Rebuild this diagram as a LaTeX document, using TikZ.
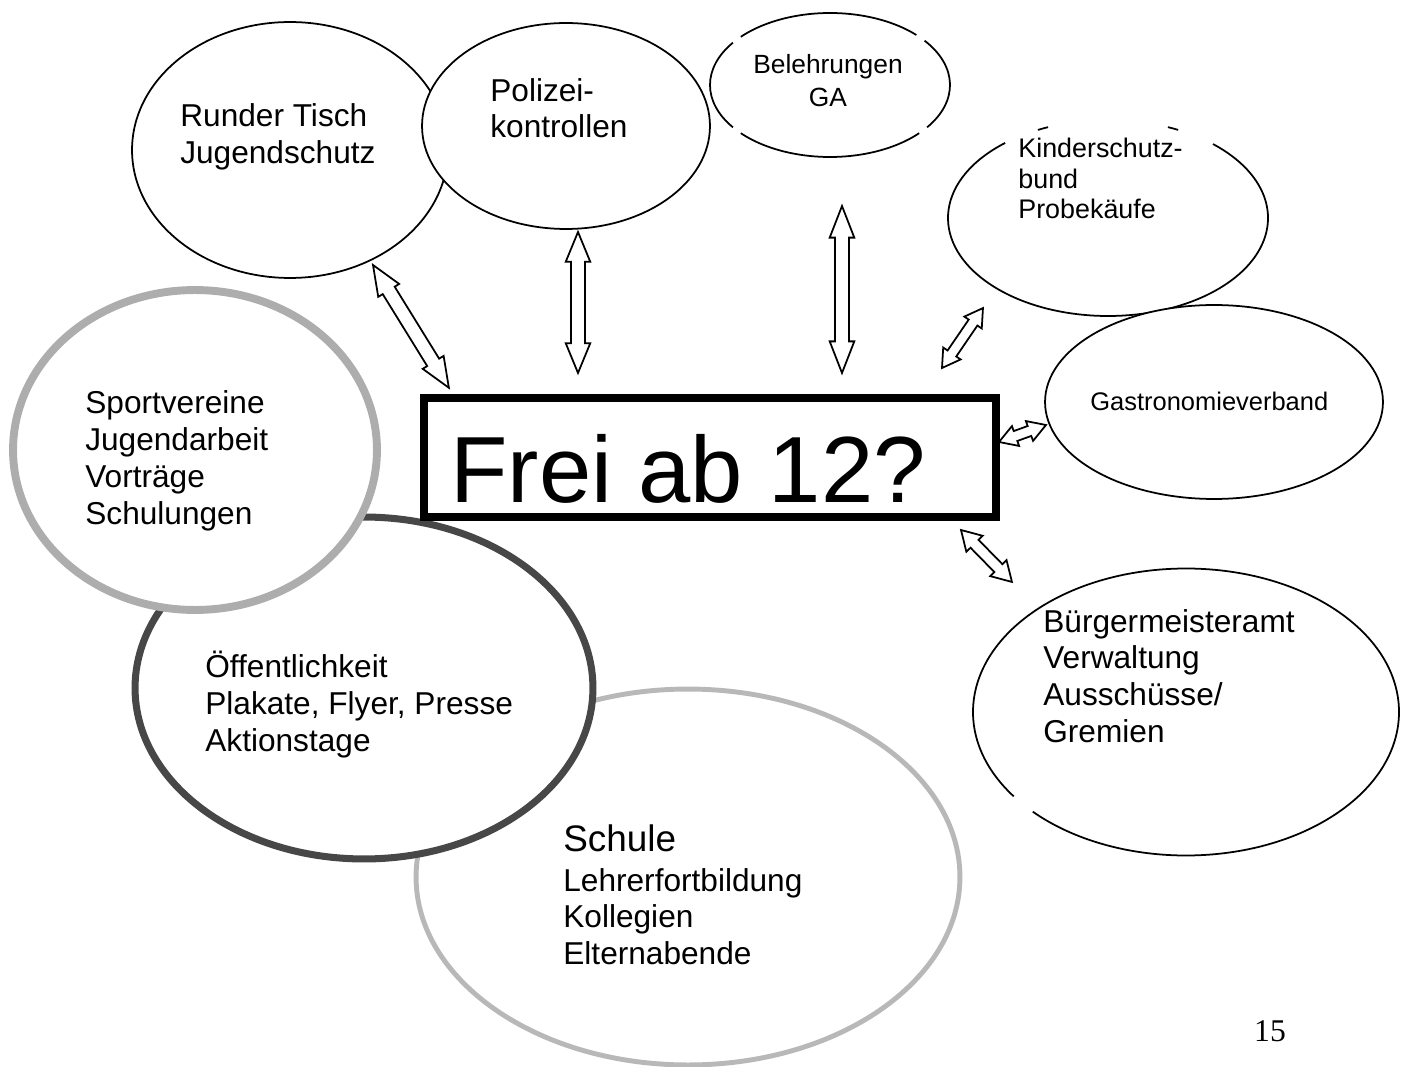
\documentclass[tikz,border=0pt]{standalone}
\usepackage{fontspec}
\setmainfont{Liberation Sans}
\newfontfamily\pagenumfont{Liberation Serif}
\usetikzlibrary{calc,shapes.geometric}

% hollow block arrow with a head at both ends, from #1 to #2;
% #3 head length, #4 half width of the head, #5 half width of the shaft (all in pt)
\newcommand{\twoway}[5]{%
  \draw[line width=1pt, fill=white]
    let \p1=($(#2)-(#1)$), \n1={atan2(\y1,\x1)}, \n2={veclen(\x1,\y1)} in
    [shift={(#1)}, rotate=\n1]
    (0pt,0pt) -- (#3pt,#4pt) -- (#3pt,#5pt) -- ({\n2*1pt-#3pt},#5pt) -- ({\n2*1pt-#3pt},#4pt)
    -- ({\n2*1pt},0pt) -- ({\n2*1pt-#3pt},-#4pt) -- ({\n2*1pt-#3pt},-#5pt)
    -- (#3pt,-#5pt) -- (#3pt,-#4pt) -- cycle;
}

\begin{document}
\begin{tikzpicture}[x=0.02cm, y=-0.02cm,
  bubble/.style={ellipse, draw, line width=1pt, fill=white, inner sep=0pt},
  words/.style={anchor=base west, align=left, inner sep=0pt, font=\fontsize{18}{21}\selectfont}]
  % one unit = one pixel of the sheet, y runs down; text nodes sit on the baseline of their last line
  \useasboundingbox (0,0) rectangle (1407,1067);
  % ---------------------------------------------------------------- the partners round the top
  \node[bubble, minimum width=6.32cm, minimum height=5.12cm] (tisch) at (290,150) {};
  \node[bubble, minimum width=5.76cm, minimum height=4.12cm] (polizei) at (566,126) {};
  % Belehrungen: the outline is broken in four places
  \node[ellipse, minimum width=4.8cm, minimum height=2.88cm, inner sep=0pt] (ga) at (830,85) {};
  \foreach \a/\b in {44/138, 144/216, 222/318, 324/398}
    \draw[line width=1pt] ([shift={(-\a:120 and 72)}]ga.center) arc[start angle=-\a, end angle=-\b, x radius=120, y radius=72];
  % Kinderschutzbund: open at the top, two short bits left
  \node[ellipse, minimum width=6.4cm, minimum height=3.92cm, inner sep=0pt] (ksb) at (1108,218) {};
  \foreach \a/\b in {64/68, 112/116, 130/409}
    \draw[line width=1pt] ([shift={(-\a:160 and 98)}]ksb.center) arc[start angle=-\a, end angle=-\b, x radius=160, y radius=98];
  \node[bubble, minimum width=6.76cm, minimum height=3.88cm] (gastro) at (1214,402) {};
  % Buergermeisteramt: one gap low on the left
  \node[ellipse, minimum width=8.52cm, minimum height=5.74cm, inner sep=0pt] (amt) at (1186,712) {};
  \draw[line width=1pt] ([shift={(-224:213 and 143.5)}]amt.center) arc[start angle=-224, end angle=-576, x radius=213, y radius=143.5];
  % ---------------------------------------------------------------- the three grey rings, bottom left
  \node[bubble, draw=black!28, line width=2.8pt, minimum width=10.88cm, minimum height=7.52cm] (schule) at (688,877) {};
  \node[bubble, draw=black!72, line width=4pt, minimum width=9.16cm, minimum height=6.84cm] (oeff) at (364,688) {};
  \node[bubble, draw=black!32, line width=4.5pt, minimum width=7.28cm, minimum height=6.4cm] (sport) at (195,450) {};
  % ---------------------------------------------------------------- arrows to the question
  \coordinate (a1) at (373,265); \coordinate (a2) at (449,388);
  \coordinate (b1) at (578,232); \coordinate (b2) at (578,373);
  \coordinate (c1) at (842,206); \coordinate (c2) at (842,373);
  \coordinate (d1) at (942,368); \coordinate (d2) at (983,308);
  \coordinate (e1) at (999,442); \coordinate (e2) at (1046,425);
  \coordinate (f1) at (961,530); \coordinate (f2) at (1012,582);
  \twoway{a1}{a2}{17}{7}{4}
  \twoway{b1}{b2}{17}{7}{4}
  \twoway{c1}{c2}{18}{7}{4}
  \twoway{d1}{d2}{10}{6}{3}
  \twoway{e1}{e2}{10}{6}{3}
  \twoway{f1}{f2}{11}{6.5}{3.2}
  % the question
  \node[draw, line width=4.5pt, fill=white, minimum width=11.44cm, minimum height=2.38cm] (frage) at (710,457.5) {};
  \node[anchor=base west, inner sep=0pt, font=\fontsize{53.5}{60}\selectfont] (titel) at (450,502) {Frei ab 12?};
  % ---------------------------------------------------------------- texts
  \node[words] (tischtxt) at (180,163.5) {Runder Tisch\\Jugendschutz};
  \node[words] (poltxt) at (490,138) {Polizei-\\kontrollen};
  \node[words, align=center, anchor=base, font=\fontsize{15}{18.7}\selectfont] (gatxt) at (828,106.5) {Belehrungen\\GA};
  \node[words, font=\fontsize{15.3}{17.6}\selectfont] (ksbtxt) at (1018,219) {Kinderschutz-\\bund\\Probekäufe};
  \node[words, font=\fontsize{14.5}{17}\selectfont] (gastrotxt) at (1090,411) {Gastronomieverband};
  \node[words] (sporttxt) at (85,524) {Sportvereine\\Jugendarbeit\\Vorträge\\Schulungen};
  \node[words] (oefftxt) at (205,751) {Öffentlichkeit\\Plakate, Flyer, Presse\\Aktionstage};
  \node[words, font=\fontsize{18}{20.8}\selectfont] (amttxt) at (1043,742) {Bürgermeisteramt\\Verwaltung\\Ausschüsse/\\Gremien};
  \node[words, font=\fontsize{18}{20.5}\selectfont] (schuletxt) at (563,964) {{\fontsize{21}{24}\selectfont Schule}\\[2.8pt]Lehrerfortbildung\\Kollegien\\Elternabende};
  \node[anchor=base, inner sep=0pt, font=\pagenumfont\fontsize{18}{21}\selectfont] (seite) at (1270,1041) {15};
\end{tikzpicture}
\end{document}
